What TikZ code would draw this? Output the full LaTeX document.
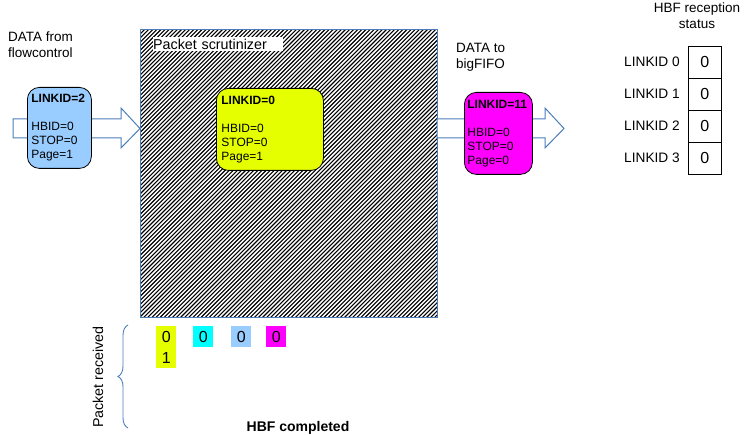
\documentclass[tikz,border=0pt]{standalone}
\usepackage{fontspec}
\setmainfont{Liberation Sans}
\usetikzlibrary{decorations.pathreplacing}
\definecolor{edgeblue}{HTML}{4A7EBB}
\definecolor{pktblue}{HTML}{99CCFF}
\definecolor{pktyellow}{HTML}{E6FF00}
\definecolor{pktmagenta}{HTML}{FF00FF}
\definecolor{pktcyan}{HTML}{00FFFF}
\tikzset{
  lbl/.style={inner sep=0pt, font=\fontsize{13.5}{16}\selectfont, align=left},
  packet/.style={draw=black, line width=0.8pt, rounded corners=12pt, inner sep=0pt,
    font=\fontsize{12}{14}\selectfont, align=left},
  blockarrow/.style={draw=edgeblue, line width=1pt, fill=white, line join=miter},
  statuscell/.style={draw=black, line width=0.8pt, minimum width=33pt, minimum height=32pt,
    inner sep=0pt, font=\fontsize{16}{18}\selectfont},
  flag/.style={inner sep=0pt, minimum width=20pt, minimum height=21pt,
    font=\fontsize{16}{18}\selectfont},
  hatch/.style={black, line width=1.1pt}
}
\begin{document}
\begin{tikzpicture}[x=1pt,y=-1pt]
\useasboundingbox (0,0) rectangle (745,435);

% scrutinizer block: diagonal hatching rising to the right
\node[minimum width=297pt, minimum height=287pt, inner sep=0pt, anchor=north west]
  (scrut) at (140,30) {};
\begin{scope}
  \clip (scrut.north west) rectangle (scrut.south east);
  \foreach \k in {0,...,145}{
    \draw[hatch] (-150+4.1*\k,320) -- ++(293,-293);
  }
\end{scope}
\draw[edgeblue, line width=1pt] (scrut.north west) rectangle (scrut.south east);
\node[fill=white, inner sep=0pt, anchor=north west, text width=130pt, minimum height=14pt,
  font=\fontsize{14.3}{14}\selectfont, align=left] (scrutlbl) at (153,37) {Packet scrutinizer};

% incoming block arrow
\coordinate (inA) at (13,119);
\draw[blockarrow] (inA) -- (121,119) -- (121,108) -- (scrut.west |- 0,128.5) -- (121,148)
  -- (121,138) -- (13,138) -- cycle;
% outgoing block arrow
\coordinate (outA) at (437,119);
\draw[blockarrow] (outA) -- (545,119) -- (545,108) -- (564,128.5) -- (545,148)
  -- (545,138) -- (437,138) -- cycle;

% packets
\node[packet, fill=pktblue, minimum width=64pt, minimum height=81pt, text width=56pt,
  anchor=north west] (pin) at (27,87)
  {\textbf{LINKID=2}\\[14pt]HBID=0\\STOP=0\\Page=1};
\node[packet, fill=pktyellow, minimum width=107pt, minimum height=82pt, text width=97pt,
  anchor=north west] (pcur) at (216,88)
  {\textbf{LINKID=0}\\[14pt]HBID=0\\STOP=0\\Page=1};
\node[packet, fill=pktmagenta, minimum width=68pt, minimum height=82pt, text width=62pt,
  anchor=north west] (pout) at (464,92)
  {\textbf{LINKID=11}\\[14pt]HBID=0\\STOP=0\\Page=0};

% captions
\node[lbl, anchor=north west] (fromlbl) at (8,32) {DATA from\\flowcontrol};
\node[lbl, anchor=north west] (tolbl) at (456,43) {DATA to\\bigFIFO};

% HBF reception status table
\node[lbl, align=center, anchor=north] (stat) at (697,3) {HBF reception\\status};
\foreach \i/\y in {0/46,1/78,2/110,3/142}{
  \node[statuscell, anchor=north west] (cell\i) at (688,\y) {0};
  \node[lbl, anchor=east, font=\fontsize{13.7}{16}\selectfont] (lid\i) at (680,\y+16) {LINKID \i};
}

% packets received per link
\node[flag, fill=pktyellow, minimum height=42pt, align=center, anchor=north west,
  font=\fontsize{16}{21}\selectfont] (fy) at (156,326) {0\\1};
\node[flag, fill=pktcyan, anchor=north west] (fc) at (193,326) {0};
\node[flag, fill=pktblue, anchor=north west] (fb) at (231,326) {0};
\node[flag, fill=pktmagenta, anchor=north west] (fm) at (266,326) {0};

\coordinate (brB) at (128,428);
\coordinate (brT) at (128,325);
\draw[edgeblue, line width=0.9pt, decorate, decoration={brace, amplitude=10pt}] (brB) -- (brT);
\node[inner sep=0pt, rotate=90, font=\fontsize{14.3}{16}\selectfont] (recv) at (98,377) {Packet received};
\node[inner sep=0pt, font=\bfseries\fontsize{14}{16}\selectfont] (done) at (298,428) {HBF completed};
\end{tikzpicture}
\end{document}
